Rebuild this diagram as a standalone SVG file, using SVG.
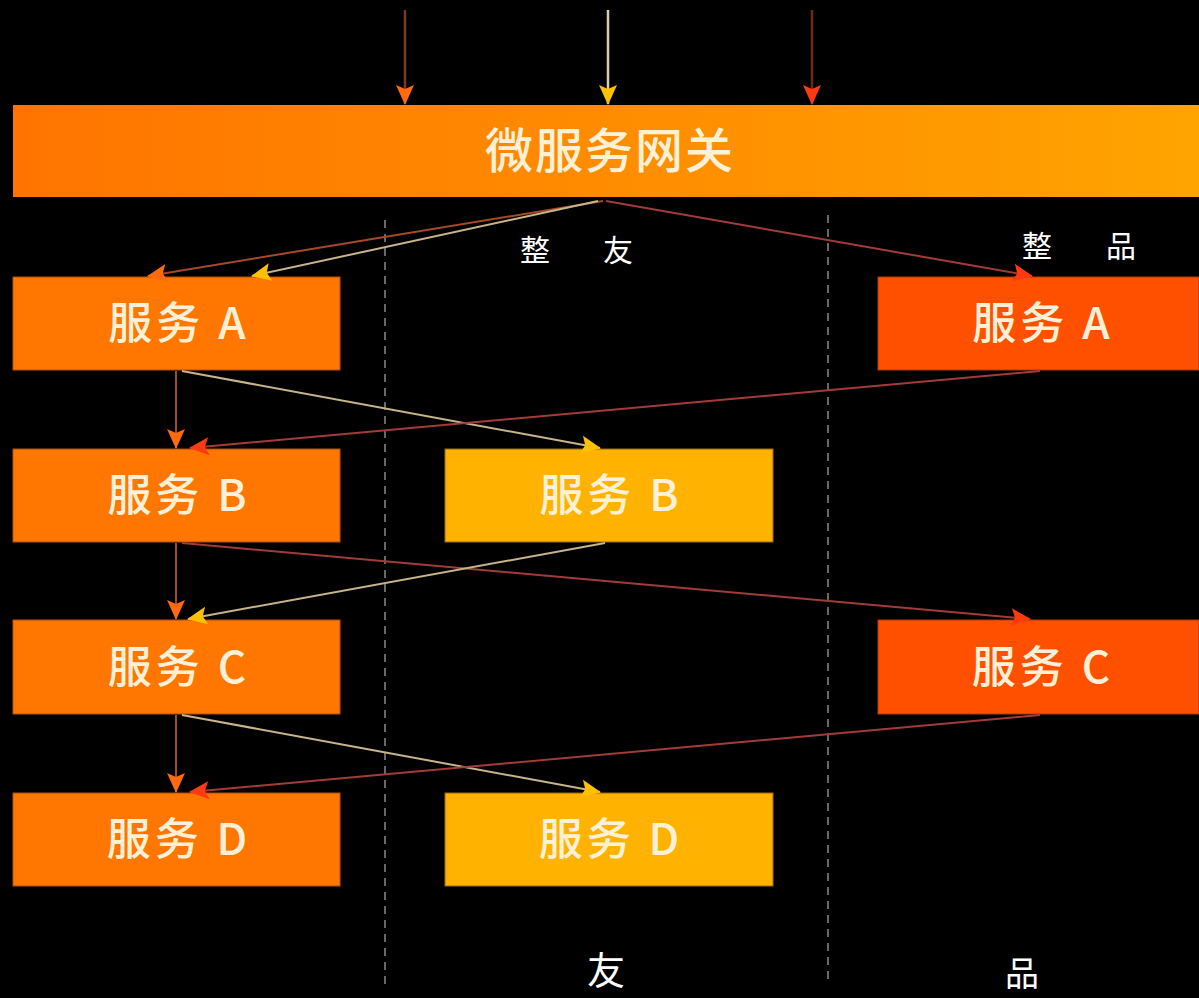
<svg xmlns="http://www.w3.org/2000/svg" width="1199" height="998" viewBox="0 0 1199 998">
<defs>
<linearGradient id="gw" x1="0" y1="0" x2="1" y2="0">
<stop offset="0" stop-color="#FF7400"/>
<stop offset="1" stop-color="#FFA400"/>
</linearGradient>
<marker id="mo" viewBox="0 0 20 20" refX="19" refY="10" markerWidth="20" markerHeight="20" markerUnits="userSpaceOnUse" orient="auto">
<path d="M0,1 L20,10 L0,19 L4,10 z" fill="#FF6A10"/>
</marker>
<marker id="my" viewBox="0 0 20 20" refX="19" refY="10" markerWidth="20" markerHeight="20" markerUnits="userSpaceOnUse" orient="auto">
<path d="M0,1 L20,10 L0,19 L4,10 z" fill="#FFC000"/>
</marker>
<marker id="mr" viewBox="0 0 20 20" refX="19" refY="10" markerWidth="20" markerHeight="20" markerUnits="userSpaceOnUse" orient="auto">
<path d="M0,1 L20,10 L0,19 L4,10 z" fill="#FF3A10"/>
</marker>
</defs>
<style>
.bg{fill:#000}
.nl{fill:#FF7600;stroke:#B4500F;stroke-width:1}
.nm{fill:#FFB300;stroke:#9A6A10;stroke-width:1}
.nr{fill:#FF5000;stroke:#B03A0A;stroke-width:1}
.t{font-family:"Noto Sans CJK SC","Noto Sans",sans-serif;fill:#FFF0D8;text-anchor:middle;font-weight:500}
.nt{font-size:44px;letter-spacing:4px}
.lb{font-family:"Noto Sans CJK SC","Noto Sans",sans-serif;fill:#FFFFFF;text-anchor:middle}
.dash{stroke:#8A8A8A;stroke-width:1.5;stroke-dasharray:8 6;fill:none}
.lo{stroke:#A44A28;stroke-width:2;fill:none;marker-end:url(#mo)}
.ly{stroke:#C8B488;stroke-width:2;fill:none;marker-end:url(#my)}
.lr{stroke:#A23C3A;stroke-width:2;fill:none;marker-end:url(#mr)}
</style>
<rect class="bg" x="0" y="0" width="1199" height="998"/>
<g id="dividers">
<line class="dash" x1="385" y1="220" x2="385" y2="985"/>
<line class="dash" x1="828" y1="215" x2="828" y2="980"/>
</g>
<g id="labels">
<text class="lb" x="535" y="261" font-size="30">整</text>
<text class="lb" x="618" y="261" font-size="30">友</text>
<text class="lb" x="1037" y="257" font-size="30">整</text>
<text class="lb" x="1121" y="257" font-size="30">品</text>
<text class="lb" x="606" y="984" font-size="38">友</text>
<text class="lb" x="1022" y="986" font-size="34">品</text>
</g>
<g id="gateway">
<rect x="13" y="105" width="1186" height="92" fill="url(#gw)"/>
<text class="t" x="610" y="168" font-size="48" letter-spacing="2">微服务网关</text>
</g>
<g id="left-A"><rect class="nl" x="13" y="277" width="327" height="93"/><text class="t nt" x="179" y="339">服务 A</text></g>
<g id="left-B"><rect class="nl" x="13" y="449" width="327" height="93"/><text class="t nt" x="179" y="511">服务 B</text></g>
<g id="left-C"><rect class="nl" x="13" y="620" width="327" height="94"/><text class="t nt" x="179" y="683">服务 C</text></g>
<g id="left-D"><rect class="nl" x="13" y="793" width="327" height="93"/><text class="t nt" x="179" y="855">服务 D</text></g>
<g id="mid-B"><rect class="nm" x="445" y="449" width="328" height="93"/><text class="t nt" x="611" y="511">服务 B</text></g>
<g id="mid-D"><rect class="nm" x="445" y="793" width="328" height="93"/><text class="t nt" x="611" y="855">服务 D</text></g>
<g id="right-A"><rect class="nr" x="878" y="277" width="321" height="93"/><text class="t nt" x="1043" y="339">服务 A</text></g>
<g id="right-C"><rect class="nr" x="878" y="620" width="321" height="94"/><text class="t nt" x="1043" y="683">服务 C</text></g>
<g id="connectors">
<line x1="405" y1="10" x2="405" y2="104" stroke="#7A3A22" stroke-width="2.5" marker-end="url(#mo)"/>
<line x1="608" y1="10" x2="608" y2="104" stroke="#D8CCB4" stroke-width="2.5" marker-end="url(#my)"/>
<line x1="812" y1="10" x2="812" y2="104" stroke="#6A2A14" stroke-width="2.5" marker-end="url(#mr)"/>
<line class="lo" x1="603" y1="201" x2="148" y2="276"/>
<line class="ly" x1="598" y1="201" x2="252" y2="276"/>
<line class="lr" x1="606" y1="201" x2="1032" y2="276"/>
<line class="lo" x1="176" y1="371" x2="176" y2="448"/>
<line class="ly" x1="182" y1="371" x2="600" y2="448"/>
<line class="lr" x1="1040" y1="371" x2="190" y2="448"/>
<line class="lo" x1="176" y1="543" x2="176" y2="619"/>
<line class="lr" x1="182" y1="543" x2="1030" y2="619"/>
<line class="ly" x1="605" y1="543" x2="188" y2="619"/>
<line class="lo" x1="176" y1="715" x2="176" y2="792"/>
<line class="ly" x1="182" y1="715" x2="600" y2="792"/>
<line class="lr" x1="1040" y1="715" x2="190" y2="792"/>
</g>
</svg>
